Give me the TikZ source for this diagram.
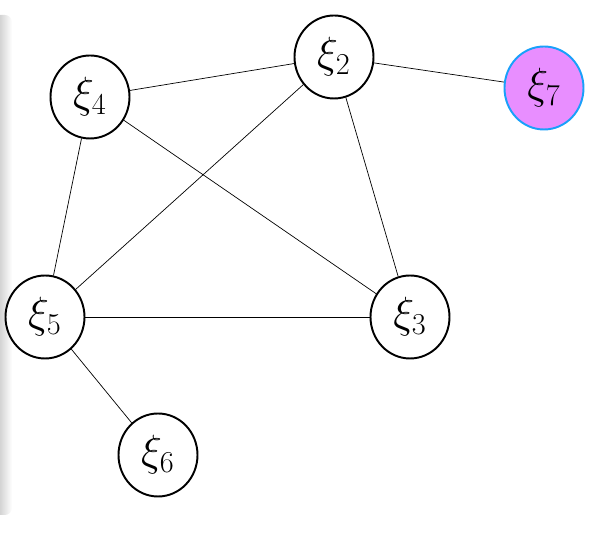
\documentclass[tikz,border=0pt]{standalone}
\usepackage{xcolor}
\usetikzlibrary{shapes.geometric, backgrounds}
\definecolor{nodeViolet}{RGB}{232,142,255}
\definecolor{rimBlue}{RGB}{25,160,250}

\begin{document}
\begin{tikzpicture}[
    vertex/.style={ellipse, draw=black, line width=1.1pt, fill=white, minimum width=1.58cm, minimum height=1.66cm, inner sep=0pt, font=\fontsize{23}{28}\selectfont},
    marked/.style={vertex, draw=rimBlue, fill=nodeViolet},
    edge/.style={thin}
]
\useasboundingbox (0,0) rectangle (12,11);

% Vertices
\node[vertex] (x2) at (6.68,9.86) {$\xi_2$};
\node[vertex] (x4) at (1.80,9.06) {$\xi_4$};
\node[marked] (x7) at (10.88,9.24) {$\xi_7$};
\node[vertex] (x5) at (0.90,4.66) {$\xi_5$};
\node[vertex] (x3) at (8.20,4.66) {$\xi_3$};
\node[vertex] (x6) at (3.16,1.90) {$\xi_6$};

% Edges
\draw[edge] (x2) -- (x4);
\draw[edge] (x2) -- (x7);
\draw[edge] (x2) -- (x5);
\draw[edge] (x2) -- (x3);
\draw[edge] (x4) -- (x5);
\draw[edge] (x4) -- (x3);
\draw[edge] (x5) -- (x3);
\draw[edge] (x5) -- (x6);

% Shadow strip on the left edge
\begin{pgfonlayer}{background}
\shade[left color=gray!55, right color=white, rounded corners=4pt] (-0.15,0.7) rectangle (0.24,10.7);
\end{pgfonlayer}

\end{tikzpicture}
\end{document}
